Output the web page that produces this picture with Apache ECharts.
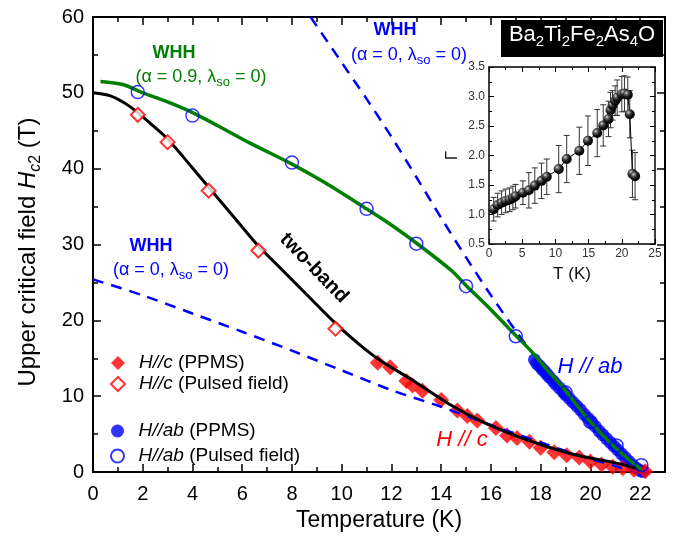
<!DOCTYPE html>
<html><head><meta charset="utf-8">
<script src="https://cdn.jsdelivr.net/npm/echarts@6/dist/echarts.min.js"></script>
<style>html,body{margin:0;padding:0;background:#fff}#c{width:684px;height:539px}</style>
</head><body><div id="c"></div>
<script>
// ---------- data ----------
const whh09T = [0.3,1.2,2,2.6,3,4,5,6.3,8,9.3,11,11.85,13,14.4,15,16,17,17.6,18.15,19,19.9,21,22.05];
const whh09H = [51.5,51.1,50.0,49.3,48.8,47.4,45.7,43.4,40.6,38.2,34.7,32.9,30.2,26.6,24.6,21.4,18.0,16.0,13.9,10.7,7.0,3.2,0.3];
const twoBandT = [0,0.7,1.3,1.8,2.4,3.0,4.0,5.0,6.0,6.65,7.5,8.5,9.75,10.9,11.6,12.9,14.3,15.6,16.9,18.3,19.6,21.0,22.05];
const twoBandH = [50,49.6,48.6,47.4,45.7,43.9,40.1,36.2,32.3,29.8,27.0,23.7,19.6,16.3,14.6,12.0,9.0,6.7,4.9,3.3,2.1,1.2,0.3];
const whhCT = [0,2,4,6,8,10,12,14,16,18,20,21,21.6];
const whhCH = [25.4,23.3,20.9,18.5,16.0,13.4,10.8,8.6,6.2,3.9,1.7,0.8,0];
const whhAbT = [8.75,10,11,12,13,14,15,16,17,18,19,20,21,22];
const whhAbH = [60,54.0,49.2,44.2,38.9,33.5,28.3,23.3,18.6,14.3,10.3,6.6,3.2,0.1];
const cPpmsT = [11.45,11.95,12.6,12.85,13.25,14.0,14.65,15.05,15.45,16.2,16.65,17.05,17.55,18.0,18.55,19.05,19.55,20.0,20.45,20.9,21.3,21.75,22.2];
const cPpmsH = [14.4,13.8,12.0,11.4,10.7,9.5,8.1,7.4,6.8,5.8,4.8,4.5,4.0,3.2,2.6,2.2,1.9,1.4,1.0,0.7,0.5,0.3,0.1];
const cPulsedT = [1.8,3.0,4.65,6.65,9.75];
const cPulsedH = [47.1,43.5,37.1,29.2,18.9];
const abPpmsT = [17.75,17.85,17.95,18.05,18.15,18.25,18.35,18.5,18.6,18.75,18.9,19.0,19.15,19.3,19.45,19.6,19.75,19.9,20.05,20.2,20.35,20.5,20.65,20.8,20.95,21.1,21.25,21.4,21.55,21.7,21.85,22.0,22.1];
const abPpmsH = [14.8,14.3,14.0,13.6,13.3,12.9,12.5,12.0,11.6,11.1,10.6,10.2,9.7,9.2,8.7,8.2,7.6,7.1,6.5,6.0,5.4,4.9,4.4,3.9,3.4,2.9,2.4,1.9,1.4,0.9,0.5,0.2,0.05];
const abPulsedT = [1.8,4.0,8.0,11.0,13.0,15.0,17.0,19.0,20.0,21.05,22.05];
const abPulsedH = [50.1,47.0,40.8,34.7,30.1,24.5,17.9,10.5,6.6,3.5,0.9];
// inset
const gammaT = [0.7,1.3,1.9,2.5,3.1,3.6,4.0,5.1,6.0,6.9,7.9,8.7,10.5,11.7,13.6,14.9,16.3,17.2,18.0,18.3,18.6,19.0,19.3,20.0,20.4,20.9,21.2,21.6,22.0];
const gammaV = [1.09,1.16,1.20,1.23,1.25,1.28,1.31,1.37,1.41,1.49,1.57,1.64,1.77,1.94,2.08,2.25,2.38,2.51,2.62,2.77,2.85,2.93,2.98,3.04,3.05,3.03,2.70,1.69,1.65];
const gammaErr = [0.2,0.2,0.2,0.2,0.2,0.2,0.2,0.2,0.3,0.3,0.3,0.3,0.4,0.4,0.4,0.42,0.4,0.35,0.3,0.3,0.25,0.25,0.3,0.3,0.3,0.3,0.4,0.4,0.4];
// axis ticks
const mainX = {min:0, max:23, interval:2};
const mainY = {min:0, max:60, interval:10};
const insetX = {min:0, max:25, interval:5};
const insetY = {min:0.5, max:3.5, interval:0.5};

const FAM = 'Liberation Sans';
const F = 'Liberation Sans, Arial, Helvetica, sans-serif';
const zip = (a,b) => a.map((v,i)=>[v,b[i]]);
const GREEN = '#008000', BLUE = '#0000ff', RED = '#ff0000';

// text made of pieces (for subscripts)
const mctx = document.createElement('canvas').getContext('2d');
function fontStr(p){ return (p.it?'italic ':'')+(p.b?'bold ':'')+p.s+'px '+FAM; }
function pieces(parts, cx, cy, color, rotation, mainSize, subShift, z) {
  let W = 0;
  parts.forEach(p => { mctx.font = fontStr(p); p.w = mctx.measureText(p.t).width; W += p.w; });
  let x = -W/2;
  const children = parts.map(p => {
    const dy = p.sub ? (0.35*mainSize - 0.35*p.s + subShift) : 0;
    const el = {type:'text', x:x, y:dy, z:z||50, style:{text:p.t, fill:color, font:fontStr(p).replace(FAM, F),
      align:'left', textAlign:'left', verticalAlign:'middle', textVerticalAlign:'middle'}};
    x += p.w;
    return el;
  });
  return {type:'group', x:cx, y:cy, rotation:rotation||0, z:z||50, children:children};
}
function paren(prefix, color, cx, cy) {
  return pieces([{t:prefix, s:18},{t:'so', s:13, sub:true},{t:' = 0)', s:18}], cx, cy, color, 0, 18, 4);
}
function label(txt, color, x, y, size, weight, italic, rot) {
  return {type:'text', x:x, y:y, rotation:rot||0, z:50, style:{text:txt, fill:color,
    font:(italic?'italic ':'')+(weight||'normal')+' '+size+'px '+F,
    align:'center', textAlign:'center', verticalAlign:'middle', textVerticalAlign:'middle'}};
}

function axis(grid, pos, r, showLabel, extra) {
  return Object.assign({
    type:'value', gridIndex:grid, position:pos, min:r.min, max:r.max, interval:r.interval,
    axisLine:{show:true, onZero:false, lineStyle:{color:'#000', width:2}},
    axisTick:{show:true, inside:true, length:8, lineStyle:{color:'#000', width:1.5}},
    minorTick:{show:true, splitNumber:2, length:5, lineStyle:{color:'#000', width:1.5}},
    splitLine:{show:false},
    axisLabel:{show:showLabel, fontSize:20, color:'#000', fontFamily:F, margin: pos==='bottom'?12:9, showMaxLabel: pos==='bottom' ? false : true},
  }, extra||{});
}
function insetAxis(pos, r, showLabel, extra) {
  return Object.assign({
    type:'value', gridIndex:1, position:pos, min:r.min, max:r.max, interval:r.interval,
    axisLine:{show:true, onZero:false, lineStyle:{color:'#000', width:1.5}},
    axisTick:{show:true, inside:true, length:5, lineStyle:{color:'#000', width:1}},
    minorTick:{show:true, splitNumber:2, length:3, lineStyle:{color:'#000', width:1}},
    splitLine:{show:false},
    axisLabel:{show:showLabel, fontSize:12, color:'#333', fontFamily:F, margin:4},
  }, extra||{});
}

const richLegend = {
  f:{fontStyle:'italic', fontSize:19, fontFamily:F, color:'#000', padding:[0,0,0,9]},
  n:{fontSize:19, fontFamily:F, color:'#000'}
};
const legendNames = {
  cppms:'{f|H//c}{n| (PPMS)}', cpulsed:'{f|H//c}{n| (Pulsed field)}',
  abppms:'{f|H//ab}{n| (PPMS)}', abpulsed:'{f|H//ab}{n| (Pulsed field)}'
};

const sphere = {type:'radial', x:0.35, y:0.32, r:0.7, colorStops:[{offset:0,color:'#dddddd'},{offset:0.25,color:'#666'},{offset:0.6,color:'#151515'},{offset:1,color:'#000'}]};

const option = {
  backgroundColor:'#fff',
  animation:false,
  grid:[
    {left:93, top:17, width:572, height:455},
    {left:489, top:67, width:166, height:177, show:true, backgroundColor:'#fff', borderWidth:0}
  ],
  xAxis:[
    axis(0,'bottom',mainX,true,{name:'Temperature (K)', nameLocation:'middle', nameGap:37,
      nameTextStyle:{fontSize:23, color:'#000', fontFamily:F}}),
    axis(0,'top',mainX,false),
    insetAxis('bottom',insetX,true,{name:'T (K)', nameLocation:'middle', nameGap:22,
      nameTextStyle:{fontSize:17, color:'#111', fontFamily:F}}),
    insetAxis('top',insetX,false)
  ],
  yAxis:[
    axis(0,'left',mainY,true),
    axis(0,'right',mainY,false),
    insetAxis('left',insetY,true,{name:'Γ', nameLocation:'middle', nameGap:28,
      nameTextStyle:{fontSize:17, color:'#111', fontFamily:F},
      axisLabel:{show:true, fontSize:12, color:'#333', fontFamily:F, margin:4, formatter:v=>v.toFixed(1)}}),
    insetAxis('right',insetY,false)
  ],
  legend:[
    {orient:'vertical', left:110, top:353, padding:0, itemWidth:14, itemHeight:14, itemGap:1,
      data:['cppms','cpulsed'], formatter:n=>legendNames[n],
      textStyle:{fontSize:19, lineHeight:20, fontFamily:F, color:'#000', rich:richLegend}},
    {orient:'vertical', left:110, top:421, padding:0, itemWidth:14, itemHeight:13, itemGap:5,
      data:['abppms','abpulsed'], formatter:n=>legendNames[n],
      textStyle:{fontSize:19, lineHeight:20, fontFamily:F, color:'#000', rich:richLegend}}
  ],
  graphic:[
    pieces([{t:'Upper critical field ', s:24},{t:'H', s:24, it:true},{t:'c', s:16, it:true, sub:true},{t:'2', s:16, sub:true},{t:' (T)', s:24}],
      28, 252, '#000', Math.PI/2, 24, 5),
    label('WHH', GREEN, 174, 53, 18, 'bold'),
    paren('(α = 0.9, λ', GREEN, 201, 77),
    label('WHH', BLUE, 395, 30, 18, 'bold'),
    paren('(α = 0, λ', BLUE, 409, 55),
    label('WHH', BLUE, 151, 246, 18, 'bold'),
    paren('(α = 0, λ', BLUE, 171, 270),
    label('two-band', '#000', 314, 268, 20, 'bold', false, -0.80),
    label('H // ab', BLUE, 590, 367, 22, 'normal', true),
    label('H // c', RED, 462, 440, 22, 'normal', true),
    {type:'rect', shape:{x:501, y:20, width:162, height:37}, style:{fill:'#000'}, z:40},
    pieces([{t:'Ba',s:22},{t:'2',s:15,sub:true},{t:'Ti',s:22},{t:'2',s:15,sub:true},{t:'Fe',s:22},{t:'2',s:15,sub:true},
            {t:'As',s:22},{t:'4',s:15,sub:true},{t:'O',s:22}], 582, 35, '#ffffff', 0, 22, 4.5, 60)
  ],
  series:[
    {name:'abppms', type:'scatter', xAxisIndex:0, yAxisIndex:0, data:zip(abPpmsT,abPpmsH),
      symbol:'circle', symbolSize:13, itemStyle:{color:BLUE}, z:2},
    {name:'cppms', type:'scatter', xAxisIndex:0, yAxisIndex:0, data:zip(cPpmsT,cPpmsH),
      symbol:'diamond', symbolSize:16, itemStyle:{color:RED}, z:2},
    {name:'whhc', type:'line', xAxisIndex:0, yAxisIndex:0, data:zip(whhCT,whhCH), showSymbol:false, smooth:0.3,
      lineStyle:{color:BLUE, width:2.5, type:[11,8]}, z:3},
    {name:'whhab', type:'line', xAxisIndex:0, yAxisIndex:0, data:zip(whhAbT,whhAbH), showSymbol:false, smooth:0.3,
      lineStyle:{color:BLUE, width:2.5, type:[11,8]}, z:3},
    {name:'twoband', type:'line', xAxisIndex:0, yAxisIndex:0, data:zip(twoBandT,twoBandH), showSymbol:false, smooth:0.3,
      lineStyle:{color:'#000', width:3}, z:4},
    {name:'whh09', type:'line', xAxisIndex:0, yAxisIndex:0, data:zip(whh09T,whh09H), showSymbol:false, smooth:0.3,
      lineStyle:{color:GREEN, width:3.5}, z:4},
    {name:'cpulsed', type:'scatter', xAxisIndex:0, yAxisIndex:0, data:zip(cPulsedT,cPulsedH),
      symbol:'diamond', symbolSize:14, itemStyle:{color:'#fff', borderColor:RED, borderWidth:2}, z:5},
    {name:'abpulsed', type:'scatter', xAxisIndex:0, yAxisIndex:0, data:zip(abPulsedT,abPulsedH),
      symbol:'circle', symbolSize:13, itemStyle:{color:'rgba(255,255,255,0)', borderColor:BLUE, borderWidth:1.5}, z:5},
    // inset
    {name:'err', type:'custom', xAxisIndex:2, yAxisIndex:2, z:6,
      data: gammaT.map((t,i)=>[t, gammaV[i]-gammaErr[i], gammaV[i]+gammaErr[i]]),
      encode:{x:0, y:[1,2]},
      renderItem:(params, api)=>{
        const x = api.value(0);
        const lo = api.coord([x, api.value(1)]);
        const hi = api.coord([x, api.value(2)]);
        const w = 3, st = {stroke:'#333', lineWidth:1};
        return {type:'group', children:[
          {type:'line', shape:{x1:lo[0], y1:lo[1], x2:hi[0], y2:hi[1]}, style:st},
          {type:'line', shape:{x1:lo[0]-w, y1:lo[1], x2:lo[0]+w, y2:lo[1]}, style:st},
          {type:'line', shape:{x1:hi[0]-w, y1:hi[1], x2:hi[0]+w, y2:hi[1]}, style:st}
        ]};
      }},
    {name:'gamma', type:'line', xAxisIndex:2, yAxisIndex:2, data:zip(gammaT,gammaV), z:7,
      symbol:'circle', symbolSize:10, showSymbol:true,
      lineStyle:{color:'#000', width:1}, itemStyle:{color:sphere, borderWidth:0}}
  ]
};
const chart = echarts.init(document.getElementById('c'), null, {renderer:'canvas'});
chart.setOption(option);
</script></body></html>
